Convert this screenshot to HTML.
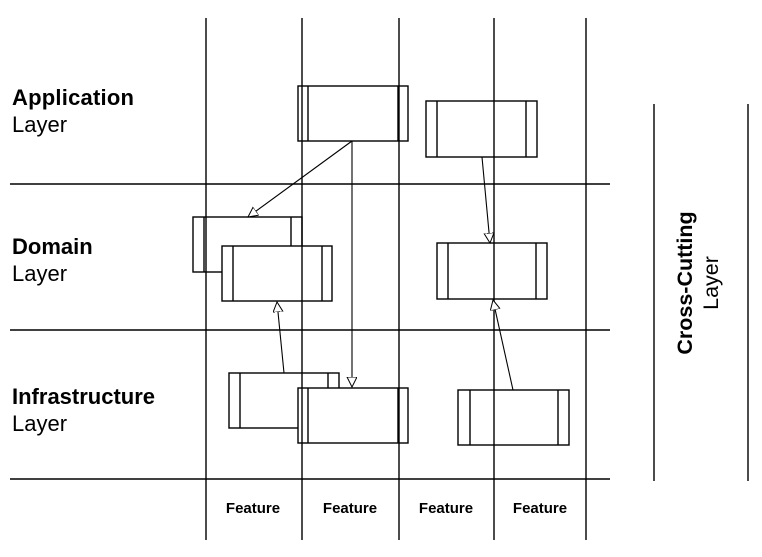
<!DOCTYPE html>
<html><head><meta charset="utf-8"><style>
html,body{margin:0;padding:0;background:#fff;}
svg{display:block;}
text{font-family:"Liberation Sans",Arial,sans-serif;fill:#000;}
</style></head><body>
<svg width="762" height="557" viewBox="0 0 762 557" xmlns="http://www.w3.org/2000/svg">
<defs>
<marker id="tri" markerWidth="12" markerHeight="12" refX="10" refY="5" orient="auto" markerUnits="userSpaceOnUse">
<path d="M0,0 L10,5 L0,10 Z" fill="#fff" stroke="#000" stroke-width="1"/>
</marker>
</defs>
<g stroke="#000" stroke-width="1.4" fill="#fff">
<g>
<rect x="298" y="86" width="110" height="55"/><line x1="308" y1="86" x2="308" y2="141"/><line x1="398" y1="86" x2="398" y2="141"/>
<rect x="426" y="101" width="111" height="56"/><line x1="437" y1="101" x2="437" y2="157"/><line x1="526" y1="101" x2="526" y2="157"/>
<rect x="193" y="217" width="109" height="55"/><line x1="204" y1="217" x2="204" y2="272"/><line x1="291" y1="217" x2="291" y2="272"/>
<rect x="222" y="246" width="110" height="55"/><line x1="233" y1="246" x2="233" y2="301"/><line x1="322" y1="246" x2="322" y2="301"/>
<rect x="437" y="243" width="110" height="56"/><line x1="448" y1="243" x2="448" y2="299"/><line x1="536" y1="243" x2="536" y2="299"/>
<rect x="229" y="373" width="110" height="55"/><line x1="240" y1="373" x2="240" y2="428"/><line x1="328" y1="373" x2="328" y2="428"/>
<rect x="298" y="388" width="110" height="55"/><line x1="308" y1="388" x2="308" y2="443"/><line x1="398" y1="388" x2="398" y2="443"/>
<rect x="458" y="390" width="111" height="55"/><line x1="470" y1="390" x2="470" y2="445"/><line x1="558" y1="390" x2="558" y2="445"/>
</g>
<line x1="206" y1="18" x2="206" y2="540"/>
<line x1="302" y1="18" x2="302" y2="540"/>
<line x1="399" y1="18" x2="399" y2="540"/>
<line x1="494" y1="18" x2="494" y2="540"/>
<line x1="586" y1="18" x2="586" y2="540"/>
<line x1="10" y1="184" x2="610" y2="184"/>
<line x1="10" y1="330" x2="610" y2="330"/>
<line x1="10" y1="479" x2="610" y2="479"/>
<line x1="654" y1="104" x2="654" y2="481"/>
<line x1="748" y1="104" x2="748" y2="481"/>
<g fill="none" stroke-width="1.1">
<line x1="352" y1="141" x2="248" y2="217" marker-end="url(#tri)"/>
<line x1="352" y1="141" x2="352" y2="387" marker-end="url(#tri)"/>
<line x1="482" y1="157" x2="490" y2="243" marker-end="url(#tri)"/>
<line x1="284" y1="373" x2="277" y2="302" marker-end="url(#tri)"/>
<line x1="513" y1="390" x2="493" y2="300" marker-end="url(#tri)"/>
</g>
</g>
<text x="12" y="105" font-size="22" font-weight="bold" textLength="122">Application</text>
<text x="12" y="132" font-size="22">Layer</text>
<text x="12" y="254" font-size="22" font-weight="bold">Domain</text>
<text x="12" y="281" font-size="22">Layer</text>
<text x="12" y="404" font-size="22" font-weight="bold">Infrastructure</text>
<text x="12" y="431" font-size="22">Layer</text>
<g font-size="15" font-weight="bold" text-anchor="middle">
<text x="253" y="513">Feature</text>
<text x="350" y="513">Feature</text>
<text x="446" y="513">Feature</text>
<text x="540" y="513">Feature</text>
</g>
<text transform="translate(692,283) rotate(-90)" font-size="21.5" font-weight="bold" text-anchor="middle">Cross-Cutting</text>
<text transform="translate(718,283) rotate(-90)" font-size="21.5" text-anchor="middle">Layer</text>
</svg>
</body></html>
